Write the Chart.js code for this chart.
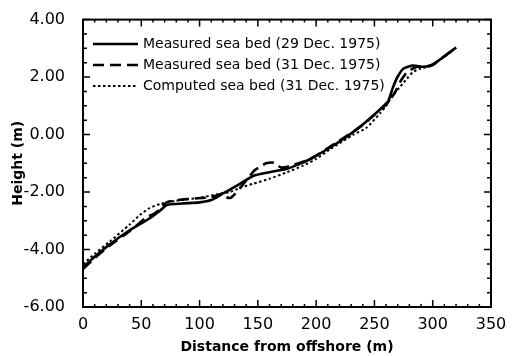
<!DOCTYPE html>
<html>
<head>
<meta charset="utf-8">
<script src="https://cdn.jsdelivr.net/npm/chart.js@4/dist/chart.umd.min.js"></script>
<style>
  body { margin: 0; background: #fff; }
  #wrap { width: 518px; height: 356px; }
</style>
</head>
<body>
<div id="wrap"><canvas id="profileChart" width="518" height="356"></canvas></div>
<script>
const seriesLabels = [
  'Measured sea bed (29 Dec. 1975)',
  'Measured sea bed (31 Dec. 1975)',
  'Computed sea bed (31 Dec. 1975)'
];

// distance from offshore (m) / height (m)
const measured29X = [0, 10, 23, 40, 57, 66, 72, 85, 100, 110, 120, 132, 146, 160, 175, 186, 195, 212, 226, 240, 255, 261, 266, 270, 275, 283, 292, 299, 309, 320];
const measured29Y = [-4.62, -4.25, -3.82, -3.33, -2.92, -2.65, -2.45, -2.4, -2.36, -2.28, -2.05, -1.78, -1.44, -1.31, -1.19, -1.02, -0.85, -0.45, -0.08, 0.35, 0.88, 1.08, 1.65, 2.02, 2.3, 2.4, 2.36, 2.42, 2.69, 3.03];

const measured31X = [0, 10, 23, 40, 55, 60, 66, 72, 90, 110, 120, 123, 127, 137, 147, 152, 157, 164, 170, 180, 195, 212, 226, 240, 255, 263, 268, 272, 278, 286, 299, 309, 320];
const measured31Y = [-4.68, -4.3, -3.86, -3.36, -2.86, -2.78, -2.6, -2.35, -2.24, -2.18, -2.05, -2.18, -2.2, -1.75, -1.25, -1.12, -1.0, -0.98, -1.15, -1.06, -0.85, -0.42, -0.05, 0.33, 0.88, 1.2, 1.49, 1.83, 2.17, 2.35, 2.4, 2.7, 3.03];

const computedX = [0, 10, 23, 40, 49, 57, 66, 80, 100, 115, 126, 135, 146, 160, 175, 189, 200, 212, 232, 243, 255, 260, 266, 272, 278, 283, 289, 298, 309, 320];
const computedY = [-4.5, -4.15, -3.72, -3.13, -2.79, -2.56, -2.42, -2.3, -2.2, -2.08, -2.0, -1.85, -1.71, -1.54, -1.31, -1.08, -0.85, -0.51, 0.0, 0.23, 0.75, 1.0, 1.37, 1.66, 1.95, 2.17, 2.29, 2.38, 2.68, 3.02];

const toPoints = (xs, ys) => xs.map((x, i) => ({ x, y: ys[i] }));

const isMajor = (v, step) => Math.abs(v / step - Math.round(v / step)) < 1e-6;

// box frame with inward ticks on all four sides
const frameTicks = {
  id: 'frameTicks',
  afterDatasetsDraw(chart) {
    const { ctx, chartArea: { left, right, top, bottom }, scales: { x, y } } = chart;
    ctx.save();
    ctx.strokeStyle = '#000';
    ctx.lineWidth = 2;
    ctx.strokeRect(left, top, right - left, bottom - top);
    ctx.lineWidth = 1.5;
    ctx.beginPath();
    x.ticks.forEach(t => {
      const px = x.getPixelForValue(t.value);
      const len = isMajor(t.value, 50) ? 7 : 3;
      ctx.moveTo(px, bottom); ctx.lineTo(px, bottom - len);
      ctx.moveTo(px, top); ctx.lineTo(px, top + len);
    });
    y.ticks.forEach(t => {
      const py = y.getPixelForValue(t.value);
      const len = isMajor(t.value, 2) ? 7 : 4;
      ctx.moveTo(left, py); ctx.lineTo(left + len, py);
      ctx.moveTo(right, py); ctx.lineTo(right - len, py);
    });
    ctx.stroke();
    ctx.restore();
  }
};

// legend inside the plot, top left, with line samples
const insideLegend = {
  id: 'insideLegend',
  afterDraw(chart) {
    const ctx = chart.ctx;
    const rowY = [44, 65, 86];
    ctx.save();
    ctx.font = '14px "DejaVu Sans"';
    ctx.textBaseline = 'middle';
    ctx.fillStyle = '#000';
    chart.data.datasets.forEach((ds, i) => {
      ctx.strokeStyle = '#000';
      ctx.lineWidth = ds.borderWidth;
      ctx.setLineDash(ds.borderDash || []);
      ctx.beginPath();
      ctx.moveTo(93, rowY[i]);
      ctx.lineTo(138, rowY[i]);
      ctx.stroke();
      ctx.fillText(ds.label, 143, rowY[i]);
    });
    ctx.restore();
  }
};

new Chart(document.getElementById('profileChart'), {
  type: 'line',
  data: {
    datasets: [
      {
        label: seriesLabels[0],
        data: toPoints(measured29X, measured29Y),
        borderColor: '#000',
        borderWidth: 2.6,
        borderDash: [],
        pointRadius: 0,
        tension: 0.2
      },
      {
        label: seriesLabels[1],
        data: toPoints(measured31X, measured31Y),
        borderColor: '#000',
        borderWidth: 2.6,
        borderDash: [11, 6],
        pointRadius: 0,
        tension: 0.2
      },
      {
        label: seriesLabels[2],
        data: toPoints(computedX, computedY),
        borderColor: '#000',
        borderWidth: 2,
        borderDash: [2.5, 2.5],
        pointRadius: 0,
        tension: 0.2
      }
    ]
  },
  options: {
    responsive: false,
    animation: false,
    devicePixelRatio: 1,
    layout: { padding: { top: 15, right: 27, left: 0, bottom: 0 } },
    plugins: {
      legend: { display: false },
      tooltip: { enabled: false }
    },
    scales: {
      x: {
        type: 'linear',
        min: 0,
        max: 350,
        grid: { display: false },
        border: { display: false },
        afterFit: scale => { scale.height = 49; },
        ticks: {
          stepSize: 10,
          autoSkip: false,
          maxRotation: 0,
          padding: 0,
          color: '#000',
          font: { family: 'DejaVu Sans', size: 16 },
          callback: v => isMajor(v, 50) ? String(Math.round(v)) : ''
        },
        title: {
          display: true,
          text: 'Distance from offshore (m)',
          color: '#000',
          font: { family: 'DejaVu Sans', size: 14, weight: 'bold' },
          padding: { top: 0, bottom: 0 }
        }
      },
      y: {
        type: 'linear',
        min: -6,
        max: 4,
        grid: { display: false },
        border: { display: false },
        afterFit: scale => { scale.width = 83; },
        ticks: {
          stepSize: 0.5,
          autoSkip: false,
          padding: 10,
          color: '#000',
          font: { family: 'DejaVu Sans', size: 16 },
          callback: v => isMajor(v, 2) ? (Math.round(v * 100) / 100).toFixed(2) : ''
        },
        title: {
          display: true,
          text: 'Height (m)',
          color: '#000',
          font: { family: 'DejaVu Sans', size: 14, weight: 'bold' },
          padding: { top: 10, bottom: 0 }
        }
      }
    }
  },
  plugins: [frameTicks, insideLegend]
});
</script>
</body>
</html>
